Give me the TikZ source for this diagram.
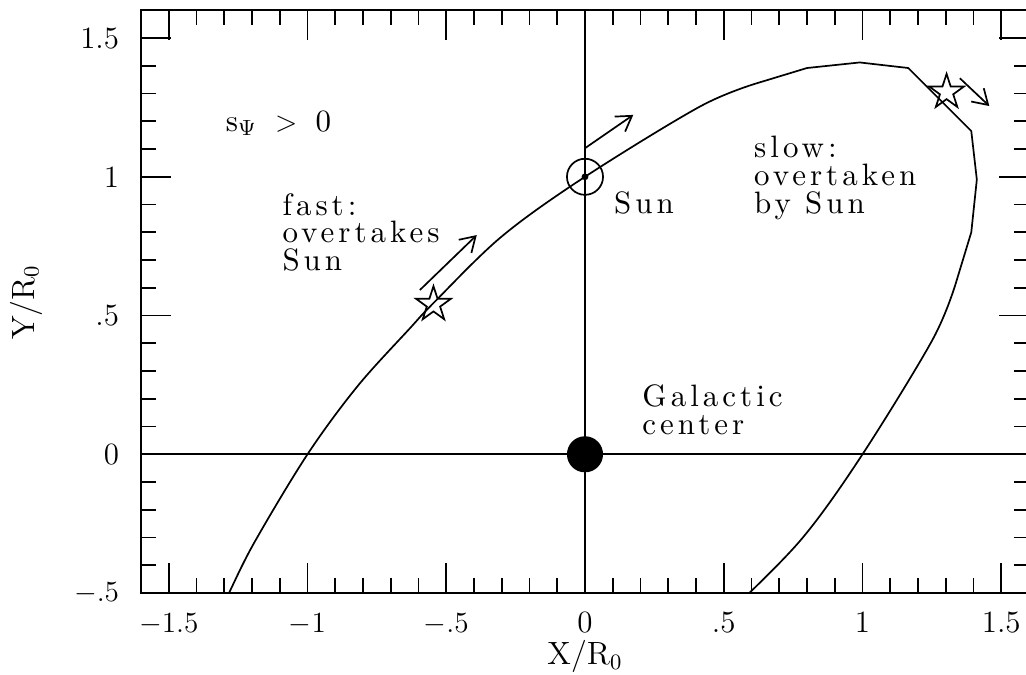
\documentclass[tikz,border=0pt]{standalone}
\usepackage{fontspec}
\usetikzlibrary{arrows.meta,shapes.geometric}
\newfontfamily\labfam[LetterSpace=13]{lmroman10-regular.otf}
\newcommand\labfont{\labfam\fontsize{12.7pt}{12.7pt}\selectfont}
\newcommand\tickfont{\fontsize{12.7pt}{12.7pt}\selectfont}
\newcommand\axfont{\fontsize{13.2pt}{13.2pt}\selectfont}
\begin{document}
\begin{tikzpicture}[x=4cm,y=4cm,line width=0.7pt,
  lab/.style={font=\labfont,inner sep=0pt,anchor=base west},
  ticklab/.style={font=\tickfont,inner sep=0pt},
  axlab/.style={font=\axfont,inner sep=0pt,anchor=base},
  starmark/.style={star,star points=5,star point ratio=2.618,draw,minimum size=15pt,inner sep=0pt},
  vel/.style={-{Straight Barb[length=6pt,width=7.5pt]}},
  sunmark/.style={circle,draw,minimum size=14.8pt,inner sep=0pt},
  gcmark/.style={circle,fill=black,minimum size=14.8pt,inner sep=0pt}]
\useasboundingbox (-2.1081,-0.7953) rectangle (1.5892,1.6371);
% frame
\draw (-1.6,-0.5) rectangle (1.6,1.6);
% ticks
\foreach \i in {-16,...,16}{
  \pgfmathsetmacro\tl{ifthenelse(mod(abs(\i),5)==0,0.108,0.054)}
  \draw (\i/10,-0.5) -- ++(0,\tl);
  \draw (\i/10,1.6) -- ++(0,-\tl);
}
\foreach \i in {-5,...,16}{
  \pgfmathsetmacro\tl{ifthenelse(mod(abs(\i),5)==0,0.108,0.054)}
  \draw (-1.6,\i/10) -- ++(\tl,0);
  \draw (1.6,\i/10) -- ++(-\tl,0);
}
% tick labels
\foreach \v/\t in {-1.5/$-1.5$,-1/$-1$,-0.5/$-.5$,0/0,0.5/.5,1/1,1.5/1.5}
  \node[ticklab,anchor=base] at (\v,-0.6436) {\t};
\foreach \v/\t in {-0.5/$-.5$,0/0,0.5/.5,1/1,1.5/1.5}
  \node[ticklab,anchor=east] at (-1.676,\v) {\t};
% axis labels
\node[axlab] (xl) at (0,-0.759) {X/R$_0$};
\node[axlab,rotate=90] (yl) at (-1.985,0.548) {Y/R$_0$};
% axes through origin
\draw (-1.6,0) -- (1.6,0);
\draw (0,-0.5) -- (0,1.6);
% orbit
\begin{scope}
\clip (-1.6,-0.5) rectangle (1.6,1.6);
\draw[line join=round] plot[smooth,tension=0.55] coordinates {(-1.34,-0.62) (-1.283,-0.5) (-1.19,-0.315) (-1,0) (-0.82,0.245) (-0.631,0.454) (-0.546,0.545) (-0.3,0.785) (0,1) (0.414,1.253) (0.619,1.337)}
  -- (0.8,1.392) -- (0.99,1.412) -- (1.165,1.392) -- (1.392,1.165) -- (1.412,0.99) -- (1.392,0.8) -- (1.337,0.619)
  -- plot[smooth,tension=0.55] coordinates {(1.337,0.619) (1.253,0.414) (1,0) (0.785,-0.3) (0.545,-0.546) (0.454,-0.631)};
\end{scope}
% markers
\node[gcmark] (gc) at (0,0) {};
\node[sunmark] (sun) at (0,1) {};
\fill (sun.center) circle (1.4pt);
\node[starmark] (st1) at (-0.546,0.540) {};
\node[starmark] (st2) at (1.303,1.305) {};
% velocity arrows
\coordinate (a1s) at (-0.595,0.592); \coordinate (a1e) at (-0.39,0.79);
\coordinate (a2s) at (0,1.103);      \coordinate (a2e) at (0.174,1.223);
\coordinate (a3s) at (1.351,1.355);  \coordinate (a3e) at (1.457,1.255);
\draw[vel] (a1s) -- (a1e);
\draw[vel] (a2s) -- (a2e);
\draw[vel] (a3s) -- (a3e);
% texts
\node[lab] (sp) at (-1.297,1.165) {s$_{\Psi}$\hspace{7.5pt}$>$\hspace{7.5pt}0};
\node[lab] (f1) at (-1.093,0.862) {fast:};
\node[lab] (f2) at (-1.093,0.763) {overtakes};
\node[lab] (f3) at (-1.093,0.664) {Sun};
\node[lab] (sl) at (0.102,0.866) {Sun};
\node[lab] (s1) at (0.6066,1.069) {slow:};
\node[lab] (s2) at (0.6066,0.969) {overtaken};
\node[lab] (s3) at (0.6066,0.869) {by Sun};
\node[lab] (g1) at (0.204,0.172) {Galactic};
\node[lab] (g2) at (0.204,0.073) {center};
\end{tikzpicture}
\end{document}
